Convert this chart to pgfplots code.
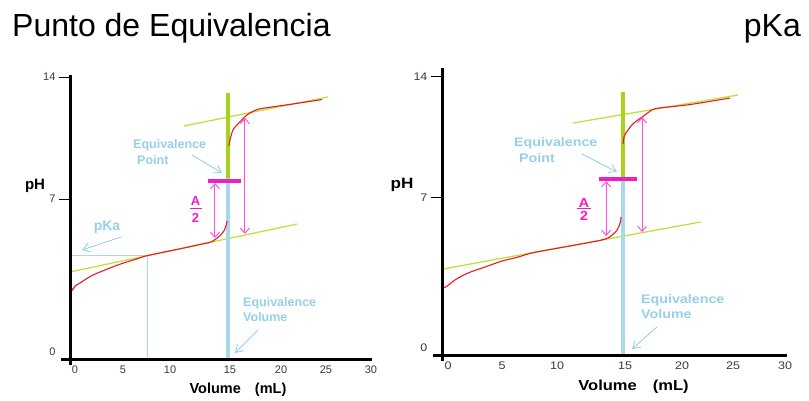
\documentclass[border=0pt]{standalone}
\usepackage{fontspec}
\setmainfont{Liberation Sans}
\usepackage{pgfplots}
\pgfplotsset{compat=1.18}
\usetikzlibrary{arrows.meta}

\definecolor{eqgreen}{RGB}{166,212,24}
\definecolor{tangreen}{RGB}{192,224,60}
\definecolor{eqblue}{RGB}{168,216,234}
\definecolor{txtblue}{RGB}{150,208,232}
\definecolor{barmag}{RGB}{238,30,196}
\definecolor{arrmag}{RGB}{255,80,220}
\definecolor{curvered}{RGB}{235,25,35}
\definecolor{ticktxt}{RGB}{55,55,75}

\tikzset{
  dblarrow/.style={arrmag, line width=1pt,
    {Straight Barb[length=5pt,width=9pt]}-{Straight Barb[length=5pt,width=9pt]}},
  callout/.style={txtblue, line width=0.9pt, -{Straight Barb[length=7pt,width=9pt]}},
  bluetext/.style={txtblue, anchor=base west, inner sep=0pt},
}
\newcommand{\lbl}[1]{\bfseries\fontsize{#1}{#1}\selectfont}
\newcommand{\wide}[1]{\scalebox{1.14}[1]{#1}}

\pgfplotsset{
  titration/.style={
    scale only axis, clip=false, axis on top,
    anchor=south west,
    axis x line=bottom, axis y line=left,
    axis line style={line width=3pt, -, black},
    x axis line style={shorten <=-9pt},
    y axis line style={shorten <=-6pt},
    tick align=outside, major tick length=11pt,
    xtick style={draw=none},
    xticklabel shift=-8pt,
    ytick style={line width=0.9pt, black},
    ticklabel style={font=\fontsize{11}{11}\selectfont, text=ticktxt},
    extra y tick style={tick style={draw=none}},
  },
}

\begin{document}
\begin{tikzpicture}[x=1pt, y=1pt]
\useasboundingbox (0,0) rectangle (809,400);

% ---------------- left panel: equivalence point ----------------
\begin{axis}[titration, at={(70pt,41pt)},
  width=302pt, height=284pt,
  xmin=-0.39, xmax=29.02, ymin=0, ymax=14.10,
  xtick={0.10,4.77,9.35,15.19,20.16,24.54,28.92},
  xticklabels={0,5,10,15,20,25,30},
  ytick={7.94,14}, yticklabels={7,14},
  extra y ticks={0.35}, extra y tick labels={0}]
  % half-equivalence construction
  \addplot[eqblue, line width=1pt] coordinates {(-0.39,5.16) (7.14,5.16) (7.14,0)};
  % tangents to the two buffer regions
  \addplot[tangreen, line width=1.3pt] coordinates {(-0.39,4.32) (21.71,6.70)};
  \addplot[tangreen, line width=1.3pt] coordinates {(10.71,11.57) (24.73,13.01)};
  % equivalence volume
  \addplot[eqgreen, line width=4pt] coordinates {(15,8.99) (15,13.21)};
  \addplot[eqblue, line width=4pt] coordinates {(15,0) (15,8.99)};
  % titration curve
  \addplot[curvered, line width=1.1pt, smooth] coordinates {
    (-0.29,3.57) (-0.15,3.43) (0.10,3.62) (0.58,3.77) (1.17,3.97) (1.85,4.17)
    (2.53,4.32) (3.51,4.52) (4.28,4.67) (5.16,4.82) (6.13,4.97) (7.11,5.13)
    (10.32,5.47) (12.76,5.74) (13.24,5.79) (13.53,5.86) (13.83,5.96)
    (14.12,6.08) (14.41,6.23) (14.66,6.41) (14.80,6.60) (14.90,6.85)};
  \addplot[curvered, line width=1.1pt, smooth] coordinates {
    (15.09,10.58) (15.19,10.87) (15.34,11.17) (15.48,11.37) (15.77,11.57)
    (16.16,11.77) (16.85,12.12) (17.62,12.34) (18.31,12.44) (21.03,12.64)
    (24.15,12.88)};
  % midpoint of the jump
  \addplot[barmag, line width=3.5pt] coordinates {(13.05,8.84) (16.26,8.84)};
  \addplot[dblarrow] coordinates {(13.73,8.74) (13.73,6.01)};
  \addplot[dblarrow] coordinates {(16.65,11.97) (16.65,6.21)};
\end{axis}

% ---------------- right panel: pKa ----------------
\begin{axis}[titration, at={(442pt,45pt)},
  width=345pt, height=287pt,
  xmin=-0.70, xmax=29.30, ymin=0, ymax=14.45,
  xtick={-0.17,4.52,9.30,15.22,20.17,24.61,29.13},
  xticklabels={\wide{0},\wide{5},\wide{10},\wide{15},\wide{20},\wide{25},\wide{30}},
  ytick={7.91,14}, yticklabels={\wide{7},\wide{14}},
  extra y ticks={0.35}, extra y tick labels={\wide{0}}]
  \addplot[tangreen, line width=1.3pt] coordinates {(-0.61,4.33) (21.83,6.70)};
  \addplot[tangreen, line width=1.3pt] coordinates {(10.70,11.68) (25.04,13.09)};
  \addplot[eqgreen, line width=4pt] coordinates {(15,8.96) (15,13.24)};
  \addplot[eqblue, line width=4pt] coordinates {(15,0) (15,8.96)};
  \addplot[curvered, line width=1.1pt, smooth] coordinates {
    (-0.65,3.52) (-0.52,3.40) (-0.26,3.47) (0.43,3.78) (1.04,3.98) (1.57,4.13)
    (2.26,4.28) (3.04,4.43) (4.52,4.73) (5.91,4.93) (7.13,5.14) (9.57,5.40)
    (12.17,5.67) (13.04,5.77) (13.48,5.84) (13.83,5.92) (14.09,6.04)
    (14.35,6.17) (14.52,6.29) (14.74,6.55) (14.83,6.75) (14.87,6.95)};
  \addplot[curvered, line width=1.1pt, smooth] coordinates {
    (15.04,10.62) (15.13,10.98) (15.30,11.18) (15.48,11.33) (15.74,11.53)
    (16.09,11.73) (16.70,11.98) (17.57,12.34) (18.26,12.44) (20.87,12.61)
    (24.35,12.94)};
  \addplot[barmag, line width=3.5pt] coordinates {(12.96,8.86) (16.26,8.86)};
  \addplot[dblarrow] coordinates {(13.57,8.76) (13.57,5.99)};
  \addplot[dblarrow] coordinates {(16.70,11.98) (16.70,6.19)};
\end{axis}

% ---------------- titles ----------------
\node[anchor=base west, inner sep=0pt, font=\fontsize{32}{32}\selectfont] at (12,363) {Punto de Equivalencia};
\node[anchor=base east, inner sep=0pt, font=\fontsize{32}{32}\selectfont] at (801,363) {pKa};

% ---------------- left panel labels ----------------
\node[anchor=base, inner sep=0pt, font=\lbl{15}] at (35,210.5) {pH};
\node[anchor=base, inner sep=0pt, font=\lbl{14.5}] at (238,6.5) {Volume\hspace{14pt}(mL)};
\node[bluetext, font=\lbl{12.5}] at (133,251.5) {Equivalence};
\node[bluetext, font=\lbl{12.5}] at (137,235.5) {Point};
\draw[callout] (192,245) -- (222,227);
\node[bluetext, font=\lbl{12.5}] at (243,93.5) {Equivalence};
\node[bluetext, font=\lbl{12.5}] at (243,78.5) {Volume};
\draw[callout] (258,70) -- (235,47);
\node[txtblue, anchor=base, inner sep=0pt, font=\lbl{14}] at (107,170) {pKa};
\draw[callout] (121,163) -- (82,150);
\node[barmag, anchor=base, inner sep=0pt, font=\lbl{13}] at (195.5,195) {A};
\draw[barmag, line width=1pt] (189.5,191.7) -- (201.5,191.7);
\node[barmag, anchor=base, inner sep=0pt, font=\lbl{13}] at (195.5,178) {2};

% ---------------- right panel labels ----------------
\node[anchor=base, inner sep=0pt, font=\lbl{15}] at (402,211.5) {\wide{pH}};
\node[anchor=base, inner sep=0pt, font=\lbl{14.5}] at (633.5,10) {\wide{Volume\hspace{14pt}(mL)}};
\node[bluetext, font=\lbl{12.5}] at (514,253.5) {\wide{Equivalence}};
\node[bluetext, font=\lbl{12.5}] at (519,237.5) {\wide{Point}};
\draw[callout] (582,246) -- (617,228);
\node[bluetext, font=\lbl{12.5}] at (641,96.5) {\wide{Equivalence}};
\node[bluetext, font=\lbl{12.5}] at (641,81.5) {\wide{Volume}};
\draw[callout] (657,73) -- (632,51);
\node[barmag, anchor=base, inner sep=0pt, font=\lbl{13}] at (584,193) {\wide{A}};
\draw[barmag, line width=1pt] (577,192) -- (591,192);
\node[barmag, anchor=base, inner sep=0pt, font=\lbl{13}] at (584,179.5) {\wide{2}};
\end{tikzpicture}
\end{document}
